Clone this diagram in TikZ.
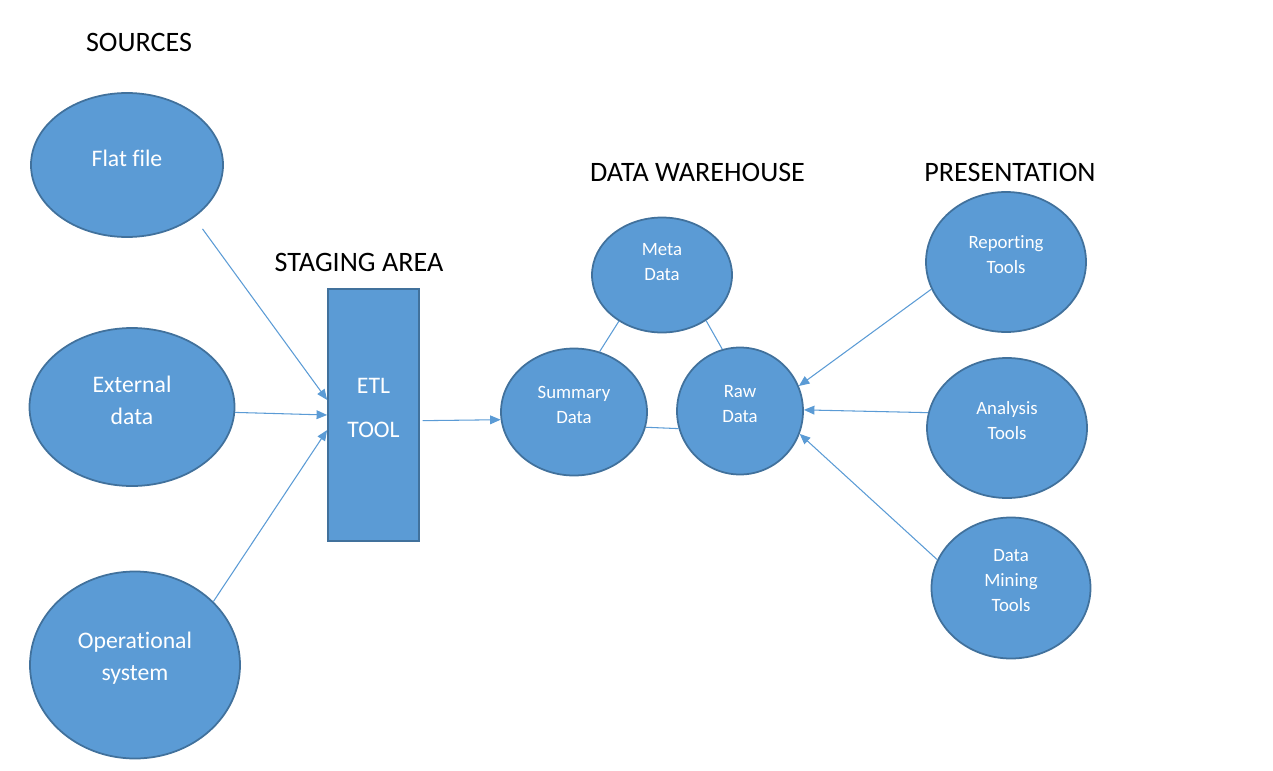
\documentclass[tikz,border=0pt]{standalone}
\usepackage{fontspec}
\setmainfont{Carlito}[Ligatures={NoCommon}]
\usetikzlibrary{shapes.geometric, arrows.meta}

\definecolor{fillblue}{HTML}{5B9BD5}
\definecolor{edgeblue}{HTML}{41719C}

\begin{document}
\begin{tikzpicture}[x=0.02cm, y=-0.02cm,
	size/.style 2 args={minimum width=#1*0.02cm, minimum height=#2*0.02cm},
	blob/.style={ellipse, fill=fillblue, draw=edgeblue, line width=1pt, inner sep=0pt, size=#1},
	box/.style={rectangle, fill=fillblue, draw=edgeblue, line width=1pt, inner sep=0pt, size=#1},
	txt/.style={text=white, align=center, yshift=4pt},
	big/.style={font=\fontsize{13.5}{18.2}\selectfont},
	small/.style={font=\fontsize{10.7}{14.2}\selectfont},
	blab/.style={label={[txt, big]center:{#1}}},
	slab/.style={label={[txt, small]center:{#1}}},
	title/.style={anchor=base, font=\fontsize{16}{19}\selectfont},
	line/.style={draw=fillblue, line width=0.6pt},
	arr/.style={line, -{Triangle[length=6pt, width=5pt]}}]

	\useasboundingbox (0,0) rectangle (1273,770);

	\node[title] (src) at (139,51.5) {SOURCES};
	\node[title] (stg) at (359,271.5) {STAGING AREA};
	\node[title] (dwh) at (697.5,181) {DATA WAREHOUSE};
	\node[title] (prs) at (1010,181.5) {PRESENTATION};

	\node[blob={192}{144}, blab={Flat file}] (flat) at (127,165) {};
	\node[blob={205}{158}, blab={External\\data}] (ext) at (132,407) {};
	\node[blob={210}{187}, blab={Operational\\system}] (ops) at (135,665) {};

	\node[box={91}{252}, blab={ETL\\[7pt]TOOL}] (etl) at (373.5,415) {};

	\node[blob={146}{127}, slab={Summary\\Data}] (sum) at (574,412) {};
	\node[blob={140}{115}, label={[txt, small, yshift=3.5pt]center:{Meta\\Data}}] (meta) at (662,275) {};
	\node[blob={126}{127}, slab={Raw\\Data}] (raw) at (740,411) {};

	\node[blob={160}{140}, slab={Reporting\\Tools}] (rep) at (1006,262) {};
	\node[blob={160}{140}, slab={Analysis\\Tools}] (ana) at (1007,428) {};
	\node[blob={159}{141}, slab={Data\\Mining\\Tools}] (mine) at (1011,588) {};

	\draw[arr, shorten <=8pt] (flat.-38) -- (etl.162);
	\draw[arr] (ext.-3) -- (etl.west);
	\draw[arr] (ops.39) -- (etl.198);
	\draw[arr, shorten <=1.5pt] (etl.-7) -- (sum.186);

	\draw[line] (sum.67) -- (meta.227);
	\draw[line] (meta.314) -- (raw.106);
	\draw[line] (sum.-12) -- (raw.196);

	\draw[arr] (rep.200) -- (raw.23);
	\draw[arr] (ana.169) -- (raw.1);
	\draw[arr] (mine.159) -- (raw.-21);
\end{tikzpicture}
\end{document}
